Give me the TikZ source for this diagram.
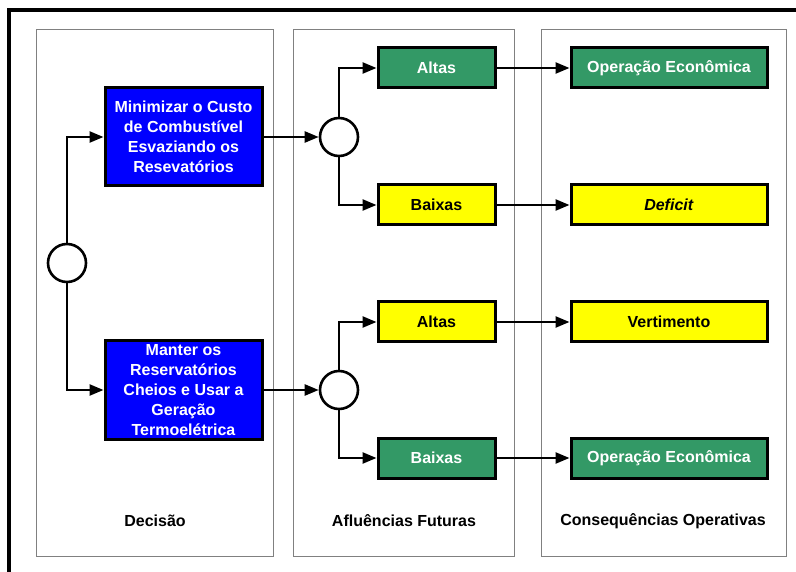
\documentclass[tikz,border=0pt]{standalone}
\usepackage{fontspec}
\setmainfont{Liberation Sans}
\usetikzlibrary{arrows.meta}
\definecolor{azul}{RGB}{0,0,255}
\definecolor{verde}{RGB}{51,153,102}
\definecolor{amarelo}{RGB}{255,255,0}
\begin{document}
\begin{tikzpicture}[x=1pt, y=-1pt, font=\bfseries\fontsize{16}{20}\selectfont,
	caixa/.style={draw=black, line width=3pt, minimum height=40pt, inner sep=0pt, align=center},
	decisao/.style={caixa, fill=azul, text=white, minimum width=157pt, minimum height=98pt},
	alta/.style={caixa, minimum width=117pt},
	cons/.style={caixa, minimum width=196pt},
	no/.style={circle, draw=black, line width=2.6pt, fill=white, minimum size=38pt, inner sep=0pt},
	seta/.style={line width=2.4pt, -{Triangle[length=14pt, width=11pt]}},
	painel/.style={draw=black!50, line width=0.8pt}]
	\useasboundingbox (0,0) rectangle (796,572);
	%moldura
	\draw[line width=4.5pt] (9,572) -- (9,10) -- (796,10);
	%paineis
	\draw[painel] (36,29) rectangle (273,556);
	\draw[painel] (293,29) rectangle (514,556);
	\draw[painel] (541,29) rectangle (786,556);
	\node (lDec) at (155,521) {Decisão};
	\node (lAfl) at (404,521) {Afluências Futuras};
	\node (lCon) at (663,521) {Consequências Operativas};
	%decisao
	\node[no] (dec) at (67,263) {};
	\node[decisao] (min) at (183.5,137) {Minimizar o Custo\\de Combustível\\Esvaziando os\\Resevatórios};
	\node[decisao] (man) at (183.5,390) {Manter os\\Reservatórios\\Cheios e Usar a\\Geração\\Termoelétrica};
	%afluencias
	\node[no] (c1) at (339,137) {};
	\node[no] (c2) at (339,390) {};
	\node[alta, fill=verde, text=white] (alta1) at (436.5,68) {Altas};
	\node[alta, fill=amarelo] (baixa1) at (436.5,205) {Baixas};
	\node[alta, fill=amarelo] (alta2) at (436.5,322) {Altas};
	\node[alta, fill=verde, text=white] (baixa2) at (436.5,458) {Baixas};
	%consequencias
	\node[cons, fill=verde, text=white] (op1) at (669,68) {Operação Econômica};
	\node[cons, fill=amarelo] (def) at (669,205) {\textit{Deficit}};
	\node[cons, fill=amarelo] (vert) at (669,322) {Vertimento};
	\node[cons, fill=verde, text=white] (op2) at (669,458) {Operação Econômica};
	%setas
	\draw[seta] (dec.north) |- (min.west);
	\draw[seta] (dec.south) |- (man.west);
	\draw[seta] (min.east) -- (c1.west);
	\draw[seta] (man.east) -- (c2.west);
	\draw[seta] (c1.north) |- (alta1.west);
	\draw[seta] (c1.south) |- (baixa1.west);
	\draw[seta] (c2.north) |- (alta2.west);
	\draw[seta] (c2.south) |- (baixa2.west);
	\foreach \a/\b in {alta1/op1, baixa1/def, alta2/vert, baixa2/op2}
	\draw[seta] (\a) -- (\b);
\end{tikzpicture}
\end{document}
